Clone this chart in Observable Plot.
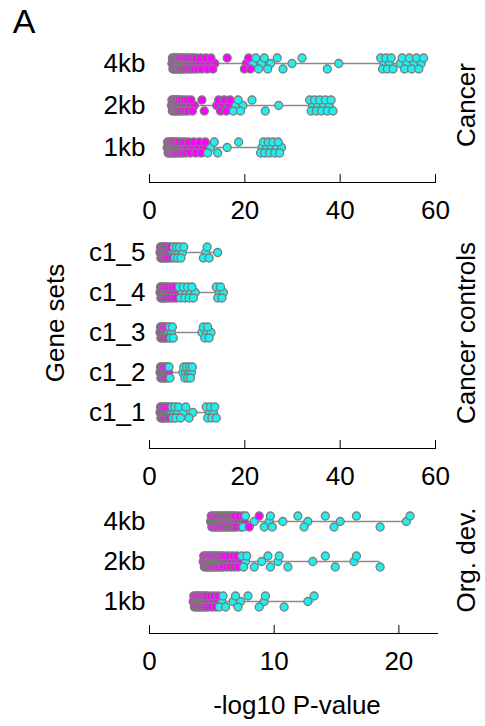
<!DOCTYPE html>
<html><head><meta charset="utf-8">
<script src="https://cdn.jsdelivr.net/npm/d3@7"></script>
<script src="https://cdn.jsdelivr.net/npm/@observablehq/plot@0.6"></script>
<style>
body{margin:0;background:#fff;font-family:"Liberation Sans",Arial,sans-serif;}
#root{position:relative;width:485px;height:726px;overflow:hidden;}
.abs{position:absolute;white-space:nowrap;color:#000;}
.rot{transform:translate(-50%,-50%) rotate(-90deg);}
.ctr{transform:translate(-50%,-50%);}
</style></head><body><div id="root"></div>
<script>
const MAG = "#ff00ff", CYA = "#1ef0f0", EDGE = "#7c7c7c";

// ---------- rows / ticks ----------
const cancerRows = ["4kb", "2kb", "1kb"];
const controlRows = ["c1_5", "c1_4", "c1_3", "c1_2", "c1_1"];
const orgRows = ["4kb", "2kb", "1kb"];
const cancerTicks = [0, 20, 40, 60];
const orgTicks = [0, 10, 20];

// ---------- Cancer (-log10 P) ----------
const cancer4kbMag = [4.7,4.8,4.9,5.0,5.1,5.2,5.3,5.4,5.5,5.6,5.7,5.8,5.9,6.0,6.1,6.2,6.3,6.4,6.5,6.65,6.8,6.95,7.1,7.2,7.35,7.5,7.7,7.85,8.0,8.2,8.4,8.6,8.8,9.0,9.2,9.4,9.6,9.8,10.1,10.4,10.7,11.0,11.4,11.8,12.1,12.5,12.9,13.3,13.7,16.3,19.9,20.3,20.8,21.2];
const cancer4kbCya = [21.7,22.3,22.9,23.5,24.1,24.8,25.4,26.8,28.0,29.9,32.0,37.3,39.7,48.5,48.9,49.2,49.6,49.9,50.3,50.7,51.1,52.6,53.0,53.5,54.0,54.5,55.0,55.5,56.0,56.5,57.0,57.5];
const cancer2kbMag = [4.6,4.7,4.8,4.9,5.0,5.1,5.2,5.3,5.4,5.5,5.6,5.7,5.8,5.9,6.0,6.1,6.25,6.4,6.55,6.7,6.9,7.1,7.3,7.5,7.7,7.9,8.1,8.4,8.7,9.0,9.4,11.0,11.5,14.1,14.5,14.9,15.3,15.7,16.1,16.5,16.9];
const cancer2kbCya = [17.6,18.1,18.6,19.1,19.6,21.5,24.3,27.1,33.6,33.9,34.2,34.6,35.0,35.3,35.7,36.1,36.5,36.9,37.3,37.7,38.1,38.5];
const cancer1kbMag = [3.7,3.8,3.9,4.0,4.1,4.2,4.3,4.4,4.5,4.6,4.7,4.8,4.9,5.0,5.1,5.2,5.3,5.45,5.6,5.75,5.9,6.05,6.2,6.4,6.6,6.8,7.0,7.2,7.4,7.6,7.9,8.2,8.5,8.9,9.3,9.7,10.1,10.5,10.9,11.3,11.7];
const cancer1kbCya = [12.2,12.8,13.6,14.3,16.3,18.7,23.3,23.6,23.9,24.2,24.6,24.9,25.2,25.6,25.9,26.3,26.6,27.0,27.3,27.7];

// ---------- Cancer controls ----------
const c15Mag = [2.2,2.3,2.4,2.5,2.6,2.7,2.8,2.9,3.0,3.1,3.2,3.3,3.4,3.5,3.65,3.8,3.95,4.1,4.3,4.5,4.7];
const c15Cya = [4.9,5.1,5.3,5.5,5.7,5.9,6.1,6.3,6.6,6.9,7.2,11.3,11.8,12.1,12.5,14.3];
const c14Mag = [2.2,2.3,2.4,2.5,2.6,2.7,2.8,2.9,3.0,3.1,3.25,3.4,3.55,3.7,3.85,4.0,4.2,4.4,4.6,4.8,5.0,5.2,5.4,5.6,5.8];
const c14Cya = [6.2,6.5,6.8,7.1,7.4,7.7,8.0,8.3,8.6,8.9,9.2,9.6,14.0,14.3,14.6,14.9,15.2,15.5];
const c13Mag = [2.2,2.3,2.4,2.5,2.6,2.7,2.8,2.9,3.0,3.1,3.25,3.4,3.55,3.7,3.85];
const c13Cya = [4.0,4.2,4.4,4.6,4.8,5.0,11.0,11.3,11.6,11.9,12.2,12.5,12.9];
const c12Mag = [2.2,2.3,2.4,2.5,2.6,2.7,2.8,2.9,3.0,3.1,3.25,3.4,3.55,3.7,3.85,4.0];
const c12Cya = [4.1,4.3,7.0,7.2,7.4,7.6,7.8,8.0,8.2,8.4,8.6,8.8,9.0];
const c11Mag = [2.2,2.3,2.4,2.5,2.6,2.7,2.8,2.9,3.0,3.1,3.25,3.4,3.55,3.7,3.85,4.0,4.15,4.3];
const c11Cya = [4.5,4.7,4.9,5.1,5.3,5.5,5.8,6.1,6.5,7.0,7.6,8.3,9.1,11.9,12.2,12.5,12.8,13.1,13.4,13.7,14.0];

// ---------- Org. dev. ----------
const org4kbMag = [4.9,4.95,5.0,5.06,5.1,5.15,5.2,5.26,5.3,5.35,5.4,5.46,5.5,5.55,5.6,5.66,5.7,5.75,5.8,5.86,5.9,5.95,6.0,6.06,6.1,6.15,6.2,6.26,6.3,6.36,6.4,6.46,6.5,6.56,6.6,6.66,6.7,6.76,6.8,6.86,6.9,7.0,7.1,7.2,7.3,7.4,7.5,7.6,8.0,8.8];
const org4kbCya = [7.5,7.7,8.4,9.2,9.6,9.7,9.85,10.7,11.9,12.4,12.7,14.1,14.8,15.3,16.6,18.5,20.6,20.9];
const org2kbMag = [4.3,4.35,4.4,4.46,4.5,4.55,4.6,4.66,4.7,4.75,4.8,4.86,4.9,4.95,5.0,5.06,5.1,5.15,5.2,5.26,5.3,5.36,5.4,5.46,5.5,5.56,5.6,5.66,5.7,5.76,5.8,5.86,5.9,6.0,6.1,6.2,6.3,6.4,6.5,6.6,6.7,6.8,6.9,7.0,7.1,7.2];
const org2kbCya = [7.4,7.55,7.7,7.8,8.4,9.0,9.5,9.7,10.3,10.4,11.1,13.1,14.1,14.9,16.4,16.6,18.5];
const org1kbMag = [3.5,3.55,3.6,3.66,3.7,3.75,3.8,3.86,3.9,3.95,4.0,4.06,4.1,4.16,4.2,4.26,4.3,4.36,4.4,4.46,4.5,4.56,4.6,4.7,4.8,4.9,5.0,5.1,5.2,5.3,5.4,5.5];
const org1kbCya = [5.6,5.8,5.9,6.1,6.7,6.9,7.1,7.3,7.9,8.8,9.2,9.3,10.8,12.7,13.2];

// ---------- layout helpers ----------
function build(rows, mags, cyas) {
  const points = [], ranges = [];
  rows.forEach((row, i) => {
    const pts = mags[i].map(v => ({row, v, c: MAG})).concat(cyas[i].map(v => ({row, v, c: CYA})));
    pts.sort((a, b) => a.v - b.v);
    const lanes = [0, -1, 1], last = [-Infinity, -Infinity, -Infinity];
    for (const p of pts) {
      let k = 0;
      for (let j = 1; j < 3; j++) if (last[j] < last[k]) k = j;
      p.lane = lanes[k]; last[k] = p.v; points.push(p);
    }
    ranges.push({row, min: d3.min(pts, d => d.v), max: d3.max(pts, d => d.v)});
  });
  return {points, ranges};
}

const FONT = "'Liberation Sans', Arial, sans-serif";
function panel({rows, data, domain, ticks, top, height, marginTop, marginBottom, insetBottom, marginRight}) {
  const marks = [
    Plot.ruleY(data.ranges, {y: "row", x1: "min", x2: "max", stroke: "#8a8a8a", strokeWidth: 1.5})
  ];
  for (const L of [0, -1, 1]) {
    marks.push(Plot.dot(data.points.filter(p => p.lane === L), {
      x: "v", y: "row", dy: L * 5.5, r: 4, fill: "c", stroke: EDGE, strokeWidth: 1.3
    }));
  }
  const svg = Plot.plot({
    width: 485, height, marginTop, marginBottom, marginLeft: 149, marginRight,
    style: {fontSize: "26px", fontFamily: FONT, background: "transparent", overflow: "visible", color: "#000"},
    x: {domain, ticks, tickSize: -8, tickPadding: 26, line: true, label: null, tickFormat: d => String(d)},
    y: {type: "point", domain: rows, padding: 0.5, insetBottom, label: null, tickSize: 0, tickPadding: 4},
    color: {type: "identity"},
    marks
  });
  svg.style.position = "absolute";
  svg.style.left = "0px";
  svg.style.top = top + "px";
  return svg;
}

const root = document.getElementById("root");
root.appendChild(panel({
  rows: cancerRows,
  data: build(cancerRows, [cancer4kbMag, cancer2kbMag, cancer1kbMag], [cancer4kbCya, cancer2kbCya, cancer1kbCya]),
  domain: [0, 60], ticks: cancerTicks, top: 0, height: 230, marginTop: 42, marginBottom: 48, insetBottom: 14, marginRight: 50
}));
root.appendChild(panel({
  rows: controlRows,
  data: build(controlRows, [c15Mag, c14Mag, c13Mag, c12Mag, c11Mag], [c15Cya, c14Cya, c13Cya, c12Cya, c11Cya]),
  domain: [0, 60], ticks: cancerTicks, top: 220, height: 265, marginTop: 10, marginBottom: 37, insetBottom: 14, marginRight: 50
}));
root.appendChild(panel({
  rows: orgRows,
  data: build(orgRows, [org4kbMag, org2kbMag, org1kbMag], [org4kbCya, org2kbCya, org1kbCya]),
  domain: [0, 23.1], ticks: orgTicks, top: 490, height: 180, marginTop: 10, marginBottom: 37, insetBottom: 12, marginRight: 48
}));

function label(text, x, y, size, cls) {
  const d = document.createElement("div");
  d.className = "abs " + cls;
  d.style.left = x + "px"; d.style.top = y + "px";
  d.style.fontSize = size + "px"; d.style.fontFamily = FONT;
  d.textContent = text;
  root.appendChild(d);
}
label("A", 24, 21, 34, "ctr");
label("Gene sets", 55, 323, 26, "rot");
label("Cancer", 466, 105, 26, "rot");
label("Cancer controls", 466, 333, 26, "rot");
label("Org. dev.", 466, 560, 26, "rot");
label("-log10 P-value", 297, 705, 26, "ctr");
</script></body></html>
